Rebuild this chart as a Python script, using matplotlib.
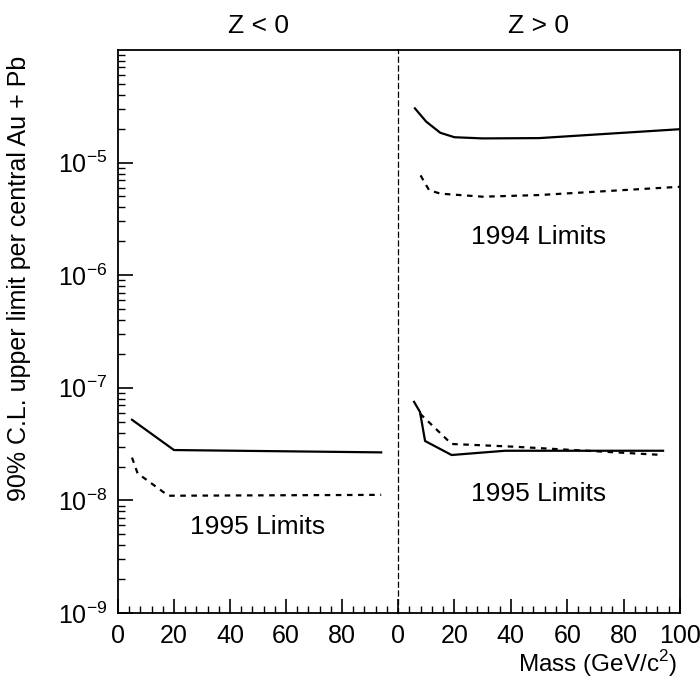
import numpy as np
import matplotlib.pyplot as plt
from matplotlib.ticker import MultipleLocator, LogLocator, NullFormatter, FixedLocator

plt.rcParams['font.family'] = ['Liberation Sans', 'DejaVu Sans']
plt.rcParams['mathtext.fontset'] = 'custom'
plt.rcParams['mathtext.rm'] = 'Liberation Sans'

# Z < 0, 1995 limits
neg95_solid_m = [5, 20, 94]
neg95_solid_v = [5.2e-8, 2.8e-8, 2.67e-8]
neg95_dash_m = [5, 7, 18, 94]
neg95_dash_v = [2.4e-8, 1.74e-8, 1.1e-8, 1.12e-8]

# Z > 0, 1994 limits
pos94_solid_m = [6, 10, 15, 20, 30, 50, 100]
pos94_solid_v = [3.03e-5, 2.31e-5, 1.84e-5, 1.68e-5, 1.64e-5, 1.65e-5, 1.98e-5]
pos94_dash_m = [8, 11, 15, 30, 50, 100]
pos94_dash_v = [7.7e-6, 5.7e-6, 5.3e-6, 4.98e-6, 5.15e-6, 6.1e-6]

# Z > 0, 1995 limits
pos95_solid_m = [5.7, 7.8, 9.6, 19, 38, 94]
pos95_solid_v = [7.5e-8, 6.1e-8, 3.37e-8, 2.53e-8, 2.76e-8, 2.76e-8]
pos95_dash_m = [7.8, 19, 41, 94]
pos95_dash_v = [5.9e-8, 3.17e-8, 3.0e-8, 2.53e-8]

y_major = [1e-9, 1e-8, 1e-7, 1e-6, 1e-5]

fig = plt.figure(figsize=(7, 6.82), dpi=100)
x0, x1, x2 = 118 / 700, 398 / 700, 680 / 700
y0, y1 = 1 - 613 / 682, 1 - 50 / 682
axL = fig.add_axes([x0, y0, x1 - x0, y1 - y0])
axR = fig.add_axes([x1, y0, x2 - x1, y1 - y0], sharey=axL)

dash = (0, (2.5, 2.5))
axL.plot(neg95_solid_m, neg95_solid_v, color='black', lw=1.6)
axL.plot(neg95_dash_m, neg95_dash_v, color='black', lw=1.6, linestyle=dash)
axR.plot(pos94_solid_m, pos94_solid_v, color='black', lw=1.6)
axR.plot(pos94_dash_m, pos94_dash_v, color='black', lw=1.6, linestyle=dash)
axR.plot(pos95_solid_m, pos95_solid_v, color='black', lw=1.6)
axR.plot(pos95_dash_m, pos95_dash_v, color='black', lw=1.6, linestyle=dash)

axL.set_yscale('log')
axL.set_ylim(1e-9, 1e-4)
for ax in (axL, axR):
    ax.set_xlim(0, 100)
    ax.xaxis.set_major_locator(MultipleLocator(20))
    ax.xaxis.set_minor_locator(MultipleLocator(4))
    ax.tick_params(axis='x', which='major', direction='in', length=10, width=1.2,
                   labelsize=18, pad=8, top=False)
    ax.tick_params(axis='x', which='minor', direction='in', length=5, width=1, top=False)
    for s in ax.spines.values():
        s.set_linewidth(1.3)

axL.set_xticks([0, 20, 40, 60, 80])
axL.yaxis.set_major_locator(FixedLocator(y_major))
axL.yaxis.set_minor_locator(LogLocator(base=10, subs=np.arange(2, 10), numticks=20))
axL.yaxis.set_minor_formatter(NullFormatter())
axL.tick_params(axis='y', which='major', direction='in', length=11, width=1.2,
                labelsize=18, right=False, pad=8)
axL.tick_params(axis='y', which='minor', direction='in', length=5, width=1, right=False)
axL.spines['right'].set_visible(False)

axR.tick_params(axis='y', which='both', left=False, right=False, labelleft=False)
axR.spines['left'].set_linestyle((0, (4, 3)))
axR.spines['left'].set_linewidth(0.9)

axL.set_title('Z < 0', fontsize=19, pad=12)
axR.set_title('Z > 0', fontsize=19, pad=12)

axL.text(50, 5.8e-9, '1995 Limits', fontsize=19, ha='center', va='center')
axR.text(50, 2.18e-6, '1994 Limits', fontsize=19, ha='center', va='center')
axR.text(50, 1.14e-8, '1995 Limits', fontsize=19, ha='center', va='center')

axL.set_ylabel('90% C.L. upper limit per central Au + Pb', fontsize=18)
axL.yaxis.set_label_coords(-0.31, 0.595)
fig.text(677 / 700, 1 - 664 / 682, 'Mass (GeV/c$^2$)', fontsize=17.5,
         ha='right', va='center')

fig.savefig('out.png', dpi=100)
